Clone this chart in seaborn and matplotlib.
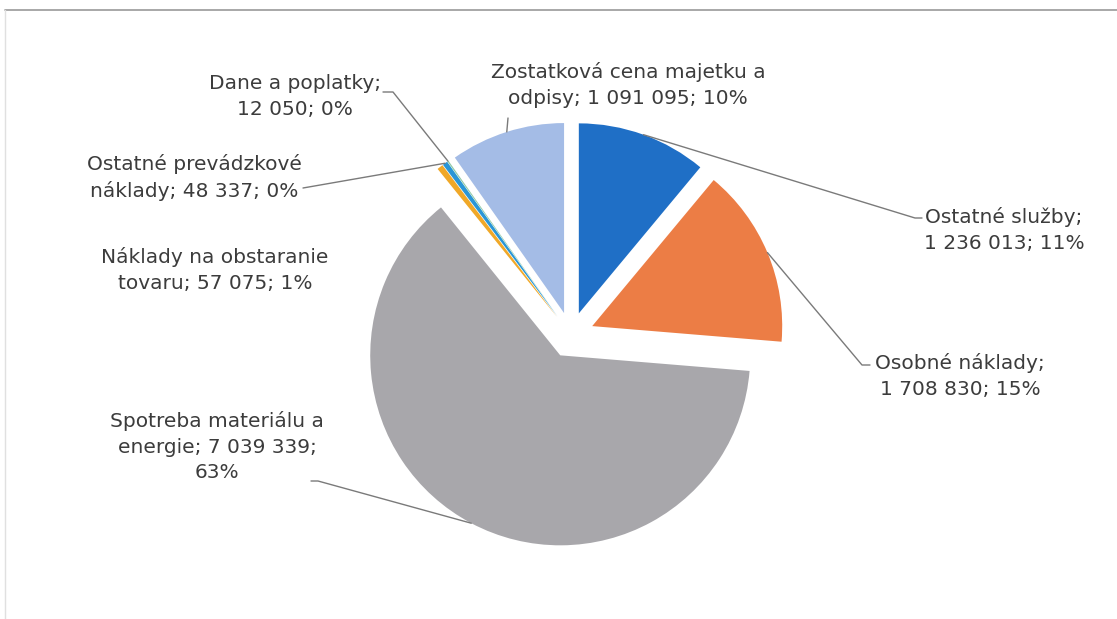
import numpy as np
import matplotlib.pyplot as plt
import seaborn as sns

categories = ["Ostatné služby", "Osobné náklady", "Spotreba materiálu a energie",
              "Náklady na obstaranie tovaru", "Ostatné prevádzkové náklady",
              "Dane a poplatky", "Zostatková cena majetku a odpisy"]
values = [1236013, 1708830, 7039339, 57075, 48337, 12050, 1091095]
# label layout as printed in the chart ({v} = value, {p} = share)
label_templates = ["Ostatné služby;\n{v}; {p}",
                   "Osobné náklady;\n{v}; {p}",
                   "Spotreba materiálu a\nenergie; {v};\n{p}",
                   "Náklady na obstaranie\ntovaru; {v}; {p}",
                   "Ostatné prevádzkové\nnáklady; {v}; {p}",
                   "Dane a poplatky;\n{v}; {p}",
                   "Zostatková cena majetku a\nodpisy; {v}; {p}"]
colors = ["#1f6fc6", "#ec7d45", "#a8a7ab", "#f0a828", "#2a96d6", "#8fc9a6", "#a4bce6"]

W, H = 1117, 619
sns.set_theme(style="white")
plt.rcParams['font.family'] = ['DejaVu Sans']

fig = plt.figure(figsize=(W / 100, H / 100), dpi=100)
ax = fig.add_axes([0, 0, 1, 1])

total = sum(values)
wedges, _ = ax.pie(values, colors=colors, startangle=90, counterclock=False,
                   radius=190, center=(571, H - 335), explode=[23] * len(values),
                   wedgeprops=dict(linewidth=0))
ax.set_xlim(0, W)
ax.set_ylim(0, H)
ax.set_aspect('equal')
ax.axis('off')

# chart frame (top + left edge of the scanned box)
ax.plot([5, W], [H - 10, H - 10], color="#9a9a9a", lw=1.2)
ax.plot([5, 5], [H - 10, 0], color="#e0e0e0", lw=1)

# label positions in screen pixels: (x centre, y of first text line), plus leader elbow (or None)
label_pos = [(1004, 218), (960, 364), (217, 422), (215, 258), (194, 165), (295, 85), (628, 73)]
elbows = [[(915, 218), (922, 218)],
          [(862, 365), (870, 365)],
          [(318, 481), (311, 481)],
          None,
          [(303, 188)],
          [(393, 92), (383, 92)],
          [(508, 118)]]

text_col = "#3c3c3c"
for w, v, tmpl, (lx, ly), elb in zip(wedges, values, label_templates, label_pos, elbows):
    txt = tmpl.format(v=f"{v:,}".replace(",", " "), p=f"{round(100 * v / total):.0f}%")
    ax.text(lx, H - ly + 11, txt, ha="center", va="top", fontsize=14.5, color=text_col,
            linespacing=1.45)
    if elb is None:
        continue
    th = np.deg2rad((w.theta1 + w.theta2) / 2)
    cx, cy = w.center
    px, py = cx + w.r * np.cos(th), cy + w.r * np.sin(th)
    xs = [px] + [e[0] for e in elb]
    ys = [py] + [H - e[1] for e in elb]
    ax.plot(xs, ys, color="#7a7a7a", lw=1)

fig.savefig("out.png", dpi=100, facecolor="white")
